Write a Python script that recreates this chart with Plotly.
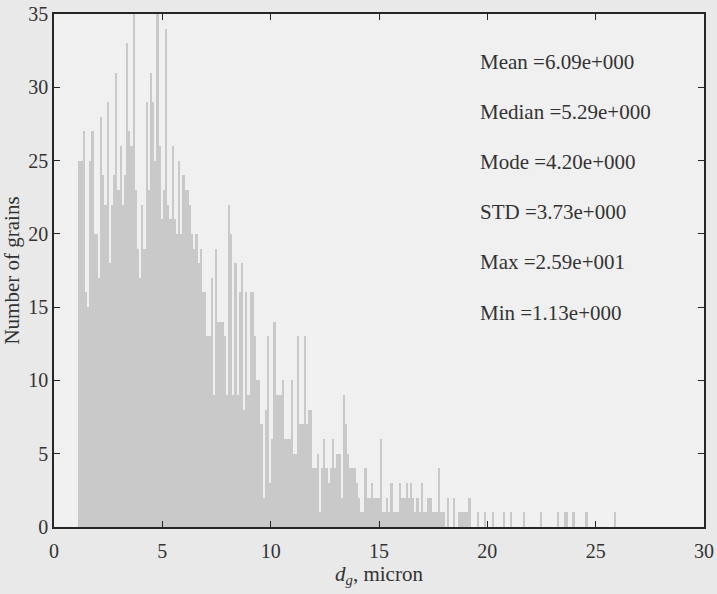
import plotly.graph_objects as go

# ---- data -------------------------------------------------------------
BIN_START = 1.13   # micron, left edge of first bin
BIN_WIDTH = 0.10   # micron

# counts per bin (10 bins per micron)
counts_01 = [25, 25, 27, 16, 15, 25, 27, 20, 20, 17]   # 1.13 - 2.13
counts_02 = [28, 24, 22, 29, 18, 22, 24, 31, 23, 26]   # 2.13 - 3.13
counts_03 = [22, 24, 33, 27, 26, 35, 23, 19, 17, 22]   # 3.13 - 4.13
counts_04 = [19, 29, 23, 31, 29, 25, 35, 26, 21, 23]   # 4.13 - 5.13
counts_05 = [34, 22, 21, 26, 21, 20, 25, 20, 24, 23]   # 5.13 - 6.13
counts_06 = [23, 22, 20, 19, 20, 18, 19, 16, 16, 13]   # 6.13 - 7.13
counts_07 = [13, 17, 9, 19, 14, 14, 14, 13, 9, 22]     # 7.13 - 8.13
counts_08 = [20, 9, 18, 9, 16, 18, 8, 16, 9, 16]       # 8.13 - 9.13
counts_09 = [16, 13, 10, 10, 7, 2, 8, 13, 3, 6]        # 9.13 - 10.13
counts_10 = [14, 9, 9, 9, 10, 6, 6, 6, 10, 5]          # 10.13 - 11.13
counts_11 = [5, 13, 7, 7, 13, 7, 8, 8, 4, 4]           # 11.13 - 12.13
counts_12 = [5, 1, 4, 6, 4, 3, 4, 6, 4, 5]             # 12.13 - 13.13
counts_13 = [5, 2, 9, 7, 5, 4, 4, 4, 3, 2]             # 13.13 - 14.13
counts_14 = [1, 1, 4, 2, 2, 3, 2, 2, 2, 6]             # 14.13 - 15.13
counts_15 = [1, 1, 2, 1, 3, 1, 1, 1, 3, 2]             # 15.13 - 16.13
counts_16 = [2, 3, 2, 3, 2, 1, 2, 1, 3, 1]             # 16.13 - 17.13
counts_17 = [1, 2, 2, 1, 1, 1, 4, 1, 1, 0]             # 17.13 - 18.13
counts_18 = [2, 0, 0, 2, 0, 1, 1, 1, 1, 1]             # 18.13 - 19.13
counts_19 = [2, 0, 0, 0, 1, 0, 0, 1, 0, 0]             # 19.13 - 20.13
counts_20 = [0, 1, 0, 0, 0, 0, 1, 0, 0, 1]             # 20.13 - 21.13
counts_21 = [0, 0, 0, 0, 0, 1, 0, 0, 0, 0]             # 21.13 - 22.13
counts_22 = [0, 0, 0, 1, 0, 0, 0, 0, 0, 0]             # 22.13 - 23.13
counts_23 = [0, 1, 0, 0, 1, 1, 0, 0, 1, 0]             # 23.13 - 24.13
counts_24 = [0, 0, 0, 0, 1, 0, 0, 0, 0, 0]             # 24.13 - 25.13
counts_25 = [0, 0, 0, 0, 0, 0, 0, 1]                   # 25.13 - 25.93

stats_text = [
    "Mean =6.09e+000",
    "Median =5.29e+000",
    "Mode =4.20e+000",
    "STD =3.73e+000",
    "Max =2.59e+001",
    "Min =1.13e+000",
]

x_ticks = [0, 5, 10, 15, 20, 25, 30]
y_ticks = [0, 5, 10, 15, 20, 25, 30, 35]

# ---- build ------------------------------------------------------------
counts = (counts_01 + counts_02 + counts_03 + counts_04 + counts_05 +
          counts_06 + counts_07 + counts_08 + counts_09 + counts_10 +
          counts_11 + counts_12 + counts_13 + counts_14 + counts_15 +
          counts_16 + counts_17 + counts_18 + counts_19 + counts_20 +
          counts_21 + counts_22 + counts_23 + counts_24 + counts_25)
centers = [BIN_START + BIN_WIDTH * (i + 0.5) for i in range(len(counts))]

FONT = "Liberation Serif"
INK = "#333333"

fig = go.Figure()
fig.add_trace(go.Bar(
    x=centers, y=counts, width=BIN_WIDTH,
    marker=dict(color="#c9c9c9", line=dict(width=0)),
    showlegend=False, hoverinfo="x+y",
))

stat_y = [31.7, 28.3, 24.9, 21.5, 18.1, 14.6]
for txt, yy in zip(stats_text, stat_y):
    fig.add_annotation(x=19.57, y=yy, xref="x", yref="y", text=txt,
                       showarrow=False, xanchor="left", yanchor="middle",
                       font=dict(family=FONT, size=21, color=INK))

axis_common = dict(
    showline=True, linecolor="#262626", linewidth=1.5, mirror="ticks",
    ticks="inside", ticklen=6, tickwidth=1.2, tickcolor="#262626",
    showgrid=False, zeroline=False, automargin=False,
    tickfont=dict(family=FONT, size=20, color=INK),
)

fig.update_layout(
    width=717, height=594,
    margin=dict(l=54, r=13, t=14, b=67),
    paper_bgcolor="#e9e9e9", plot_bgcolor="#f0f0f0",
    bargap=0,
    xaxis=dict(range=[0, 30], tickvals=x_ticks, ticklabelstandoff=5,
               title=dict(text="<i>d</i><sub><i>g</i></sub>, micron",
                          font=dict(family=FONT, size=21, color=INK),
                          standoff=4),
               **axis_common),
    yaxis=dict(range=[0, 35], tickvals=y_ticks,
               title=dict(text="Number of grains",
                          font=dict(family=FONT, size=21, color=INK),
                          standoff=4),
               **axis_common),
)

fig.write_html("out.html",
               config={"displayModeBar": False},
               post_script="document.body.style.margin='0';"
                           "document.body.style.background='#e9e9e9';")
